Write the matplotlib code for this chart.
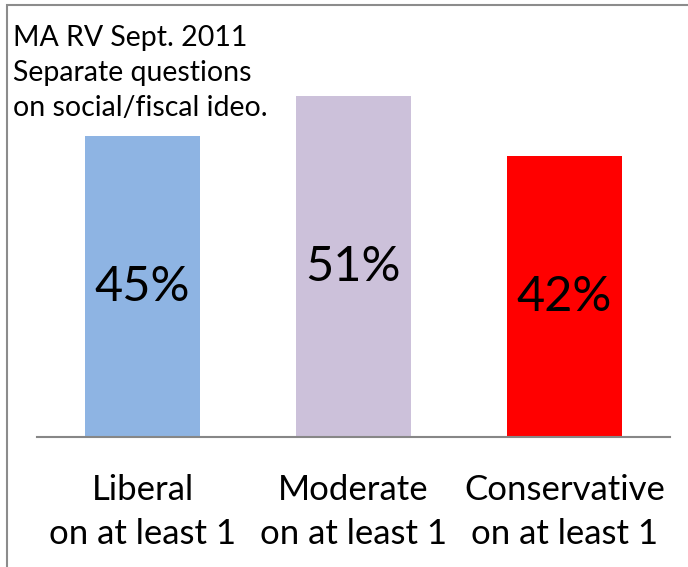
import matplotlib
matplotlib.use("Agg")
import matplotlib.pyplot as plt
from matplotlib.patches import Rectangle

categories = ["Liberal\non at least 1", "Moderate\non at least 1", "Conservative\non at least 1"]
values = [45, 51, 42]
value_labels = ["45%", "51%", "42%"]
colors = ["#8EB4E3", "#CCC1DA", "#FF0000"]
note = "MA RV Sept. 2011\nSeparate questions\non social/fiscal ideo."

plt.rcParams['font.family'] = ['Lato', 'DejaVu Sans']

W, H = 688, 567
fig = plt.figure(figsize=(W/100, H/100), dpi=100)
fig.patch.set_facecolor("white")

# border (top and left visible)
fig.add_artist(Rectangle((7/W, -0.1), 1.2, (H-5)/H + 0.1, transform=fig.transFigure,
                         fill=False, edgecolor="#8c8c8c", linewidth=1.5))

# axes: x from 37 to 670 px, baseline at y=437 px, top at 36 px
left, right = 37, 670
base, top = 437, 36
ax = fig.add_axes([left/W, 1 - base/H, (right-left)/W, (base-top)/H])
x = list(range(len(values)))
bars = ax.bar(x, values, width=0.545, color=colors)
ax.set_xlim(-0.5, len(values) - 0.5)
ax.set_ylim(0, 60)
for s in ["top", "right", "left"]:
    ax.spines[s].set_visible(False)
ax.spines["bottom"].set_color("#878787")
ax.spines["bottom"].set_linewidth(1.5)
ax.set_yticks([])
ax.set_xticks(x)
ax.set_xticklabels(categories, fontsize=25, linespacing=1.45)
ax.tick_params(axis="x", length=0, pad=26.5)
ax.patch.set_alpha(0)

for xi, v, lab in zip(x, values, value_labels):
    ax.text(xi, v/2, lab, ha="center", va="center", fontsize=35, color="black")

fig.text(13/W, 1 - 25/H, note, ha="left", va="top", fontsize=20.5, linespacing=1.42)

fig.savefig("out.png", dpi=100)
